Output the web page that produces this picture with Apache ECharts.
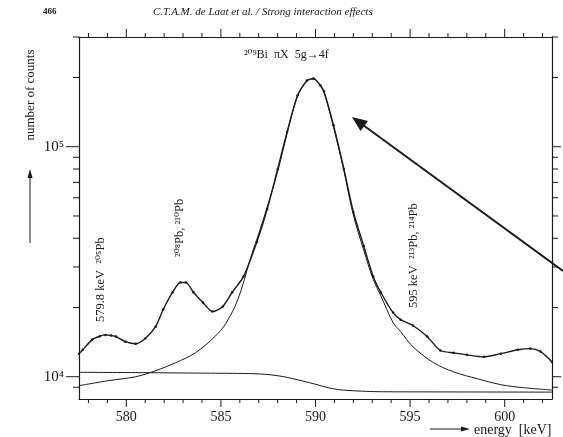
<!DOCTYPE html>
<html>
<head>
<meta charset="utf-8">
<script src="https://cdn.jsdelivr.net/npm/echarts@6/dist/echarts.min.js"></script>
<style>
  html, body { margin: 0; padding: 0; background: #fff; }
  #chart { width: 563px; height: 437px; }
</style>
</head>
<body>
<div id="chart"></div>
<script>
// Axis ranges
const energyMin = 577.5, energyMax = 602.5;
const countsMin = 8000, countsMax = 300000;

// Tick positions
const xMajorTicks = [580, 585, 590, 595, 600];
const xMinorTicks = [578, 579, 581, 582, 583, 584, 586, 587, 588, 589, 591, 592, 593, 594, 596, 597, 598, 599, 601, 602];
const yMajorTicks = [10000, 100000];
const yMinorTicks = [9000, 20000, 30000, 40000, 50000, 60000, 70000, 80000, 90000, 200000, 300000];

// Measured spectrum (energy in keV, number of counts)
const dataEnergy = [577.5, 577.7, 578.2, 578.6, 578.9, 579.2, 579.45, 579.95, 580.5, 581.0,
  581.55, 581.95, 582.45, 582.85, 583.15, 583.55, 584.05, 584.55, 585.1, 585.6,
  586.2, 586.9, 587.45, 588.0, 588.5, 589.05, 589.55, 589.9, 590.25, 590.45,
  590.95, 591.5, 592.0, 592.55, 593.05, 593.45, 594.1, 594.5, 595.15, 595.9,
  596.6, 597.3, 598.0, 598.9, 599.8, 600.7, 601.35, 601.9, 602.5];
const dataCounts = [12600, 13100, 14500, 15000, 15200, 15100, 14950, 14200, 13900, 14650,
  16500, 19600, 23300, 25700, 25700, 23300, 21000, 19200, 20200, 23300,
  27300, 38500, 53600, 80100, 116000, 167000, 194000, 198000, 185000, 174000,
  124000, 80100, 52000, 37000, 27300, 23300, 19000, 17700, 16700, 14950,
  13000, 12700, 12450, 12200, 12600, 13100, 13250, 12850, 11600];

// Fitted 5g -> 4f line shape
const fitEnergy = [577.5, 579.05, 580.5, 581.55, 582.6, 583.65, 584.7, 585.25, 585.9, 586.55,
  587.25, 588.0, 588.5, 589.05, 589.55, 589.9, 590.25, 590.45, 590.95, 591.5,
  592.0, 592.55, 593.05, 593.45, 594.1, 594.5, 595.15, 596.25, 597.3, 598.55,
  599.8, 601.0, 602.5];
const fitCounts = [9140, 9610, 10000, 10620, 11500, 12700, 15000, 17000, 21700, 32400,
  48500, 78000, 114000, 166000, 193000, 197000, 184000, 172000, 122000, 78500,
  50500, 35500, 26500, 22500, 17200, 15700, 13500, 11500, 10500, 9800,
  9230, 8960, 8750];

// Step-shaped background
const bgEnergy = [577.5, 580.5, 583.0, 585.0, 586.75, 588.0, 589.05, 589.9, 590.95, 592.0, 593.8, 596.0, 599.0, 602.5];
const bgCounts = [10450, 10420, 10380, 10350, 10300, 10100, 9700, 9320, 8860, 8690, 8600, 8590, 8580, 8570];

const ink = '#1a1a1a';
const serif = '"Liberation Serif", "DejaVu Serif", serif';

function pairs(xs, ys) { return xs.map((x, i) => [x, ys[i]]); }

// Tick marks on all four sides: [energy, counts, side, length]
// side: 0 bottom, 1 top, 2 left, 3 right
const tickItems = [];
xMajorTicks.forEach(v => { tickItems.push([v, countsMin, 0, 8]); tickItems.push([v, countsMax, 1, 8]); });
xMinorTicks.forEach(v => { tickItems.push([v, countsMin, 0, 4]); tickItems.push([v, countsMax, 1, 4]); });
yMajorTicks.forEach(v => { tickItems.push([energyMin, v, 2, 13]); tickItems.push([energyMax, v, 3, 9]); });
yMinorTicks.forEach(v => { tickItems.push([energyMin, v, 2, 6]); tickItems.push([energyMax, v, 3, 6]); });

const supDigits = { '0': '⁰', '1': '¹', '2': '²', '3': '³', '4': '⁴', '5': '⁵', '6': '⁶', '7': '⁷', '8': '⁸', '9': '⁹' };
function powerLabel(v) {
  const e = Math.log10(v);
  if (Math.abs(e - Math.round(e)) > 1e-6) return '';
  return '10' + String(Math.round(e)).split('').map(d => supDigits[d]).join('');
}

function txt(x, y, text, font, opts) {
  return Object.assign({
    type: 'text', x: x, y: y, silent: true,
    style: Object.assign({ text: text, font: font, fill: ink, align: 'left', verticalAlign: 'middle',
      textAlign: 'left', textVerticalAlign: 'middle' }, opts || {})
  });
}
function vtxt(x, y, text, font) {
  const t = txt(x, y, text, font);
  t.rotation = Math.PI / 2;
  return t;
}

const chart = echarts.init(document.getElementById('chart'), null, { renderer: 'canvas' });

chart.setOption({
  animation: false,
  backgroundColor: '#fff',
  grid: { left: 79, right: 11, top: 37, bottom: 38 },
  xAxis: [
    {
      type: 'value', min: energyMin, max: energyMax, position: 'bottom',
      axisLine: { show: true, lineStyle: { color: ink, width: 1.2 } },
      axisTick: { show: false }, splitLine: { show: false },
      axisLabel: {
        color: ink, fontFamily: serif, fontSize: 14, margin: 11,
        formatter: v => (xMajorTicks.indexOf(Math.round(v * 100) / 100) >= 0 ? String(v) : '')
      }
    },
    {
      type: 'value', min: energyMin, max: energyMax, position: 'top',
      axisLine: { show: true, lineStyle: { color: ink, width: 1.2 } },
      axisTick: { show: false }, splitLine: { show: false }, axisLabel: { show: false }
    }
  ],
  yAxis: [
    {
      type: 'log', logBase: 10, min: countsMin, max: countsMax, position: 'left',
      axisLine: { show: true, lineStyle: { color: ink, width: 1.2 } },
      axisTick: { show: false }, splitLine: { show: false }, minorTick: { show: false },
      axisLabel: { color: ink, fontFamily: serif, fontSize: 15, margin: 15, formatter: powerLabel }
    },
    {
      type: 'log', logBase: 10, min: countsMin, max: countsMax, position: 'right',
      axisLine: { show: true, lineStyle: { color: ink, width: 1.2 } },
      axisTick: { show: false }, splitLine: { show: false }, axisLabel: { show: false }
    }
  ],
  series: [
    {
      type: 'custom', name: 'ticks', xAxisIndex: 0, yAxisIndex: 0, silent: true, clip: false,
      data: tickItems,
      renderItem: function (params, api) {
        const p = api.coord([api.value(0), api.value(1)]);
        const side = api.value(2), len = api.value(3);
        const d = [[0, len], [0, -len], [-len, 0], [len, 0]][side];
        return {
          type: 'line',
          shape: { x1: p[0], y1: p[1], x2: p[0] + d[0], y2: p[1] + d[1] },
          style: { stroke: ink, lineWidth: 1 }
        };
      }
    },
    {
      type: 'line', name: 'background', data: pairs(bgEnergy, bgCounts),
      smooth: 0.4, showSymbol: false, lineStyle: { color: ink, width: 1 }
    },
    {
      type: 'line', name: 'fit', data: pairs(fitEnergy, fitCounts),
      smooth: 0.35, showSymbol: false, lineStyle: { color: ink, width: 1 }
    },
    {
      type: 'line', name: 'spectrum', data: pairs(dataEnergy, dataCounts),
      smooth: 0.25, symbol: 'circle', symbolSize: 2.5, showSymbol: true,
      itemStyle: { color: ink }, lineStyle: { color: ink, width: 1.4 }
    }
  ],
  graphic: [
    txt(43, 12, '466', 'bold 9px ' + serif),
    txt(153, 12, 'C.T.A.M. de Laat et al. / Strong interaction effects', 'italic 11px ' + serif),
    txt(244, 55, '²⁰⁹Bi  πX  5g→4f', '12px ' + serif),
    // y axis caption with upward arrow
    Object.assign(txt(31, 95, 'number of counts', '13px ' + serif, { align: 'center', textAlign: 'center' }), { rotation: Math.PI / 2 }),
    { type: 'line', silent: true, shape: { x1: 30, y1: 243, x2: 30, y2: 176 }, style: { stroke: ink, lineWidth: 1 } },
    { type: 'polygon', silent: true, shape: { points: [[30, 169], [27.5, 178], [32.5, 178]] }, style: { fill: ink } },
    // x axis caption with right arrow
    { type: 'line', silent: true, shape: { x1: 430, y1: 429, x2: 463, y2: 429 }, style: { stroke: ink, lineWidth: 1 } },
    { type: 'polygon', silent: true, shape: { points: [[470, 429], [461, 426.5], [461, 431.5]] }, style: { fill: ink } },
    txt(474, 430, 'energy  [keV]', '14px ' + serif),
    // line identifications
    vtxt(101, 322, '579.8 keV  ²⁰⁵Pb', '12.5px ' + serif),
    vtxt(180, 257, '²⁰⁸Pb, ²¹⁰Pb', '12.5px ' + serif),
    vtxt(414, 308, '595 keV  ²¹³Pb, ²¹⁴Pb', '12.5px ' + serif),
    // pointer arrow
    { type: 'line', silent: true, shape: { x1: 563, y1: 271, x2: 363, y2: 125 }, style: { stroke: ink, lineWidth: 2 } },
    { type: 'polygon', silent: true, shape: { points: [[352, 117], [368, 121], [360.5, 131]] }, style: { fill: ink } }
  ]
});
</script>
</body>
</html>
